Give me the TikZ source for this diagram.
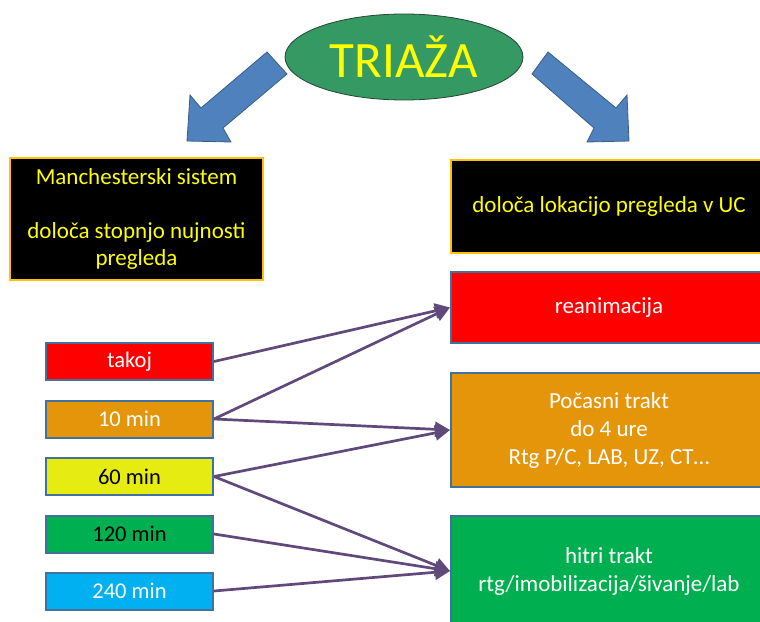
\documentclass[tikz,border=0pt]{standalone}
\usepackage{fontspec}
\setmainfont{Carlito}
\usetikzlibrary{shapes.geometric,arrows.meta}
\definecolor{ellgreen}{RGB}{52,153,99}
\definecolor{ellline}{RGB}{40,70,52}
\definecolor{arrblue}{RGB}{79,129,189}
\definecolor{arrblueline}{RGB}{56,93,138}
\definecolor{ppgold}{RGB}{255,192,0}
\definecolor{txtyellow}{RGB}{255,255,0}
\definecolor{boxline}{RGB}{65,113,156}
\definecolor{pporange}{RGB}{228,149,10}
\definecolor{ppyellow}{RGB}{230,236,18}
\definecolor{ppgreen}{RGB}{0,176,80}
\definecolor{ppcyan}{RGB}{0,176,240}
\definecolor{pppurple}{RGB}{96,74,123}
\begin{document}
\begin{tikzpicture}[x=1pt,y=-1pt,
  blackbox/.style={draw=ppgold, line width=2.2pt, fill=black, text=txtyellow,
    align=center, inner sep=0pt, font=\fontsize{23}{27}\selectfont},
  bigbox/.style={draw=boxline, line width=2pt, text=white, align=center,
    inner sep=0pt, minimum width=316pt, font=\fontsize{23}{28}\selectfont},
  smallbox/.style={draw=boxline, line width=2pt, inner sep=0pt,
    minimum width=167pt, minimum height=37pt, font=\fontsize{22.5}{25}\selectfont},
  conn/.style={draw=pppurple, line width=2.7pt,
    -{Triangle[length=15pt,width=15pt]}},
  bluearrow/.style={fill=arrblue, draw=arrblueline, line width=0.8pt, line join=miter}
]
\useasboundingbox (0,0) rectangle (760,621);
\clip (0,0) rectangle (760,621);

% top ellipse
\node[ellipse, draw=ellline, line width=0.8pt, fill=ellgreen,
  minimum width=238pt, minimum height=86pt, inner sep=0pt,
  text=txtyellow, font=\fontsize{51}{53}\selectfont] (tri) at (404,57) {TRIAŽA};

% block arrows
\path[bluearrow] (267,52) -- (201,108) -- (190,95) -- (187,141) -- (231,142)
  -- (223,128) -- (287,74) -- cycle;
\path[bluearrow] (548,52) -- (616,108) -- (627,95) -- (629,141) -- (587,142)
  -- (594,128) -- (532,74) -- cycle;

% header boxes
\node[blackbox, minimum width=253pt, minimum height=122pt] (man) at (136.5,219)
  {Manchesterski sistem\\[27pt]določa stopnjo nujnosti\\pregleda};
\node[blackbox, minimum width=316pt, minimum height=93pt] (lok) at (609,206.5)
  {določa lokacijo pregleda v UC};

% location boxes
\node[bigbox, fill=red, minimum height=71pt] (rean) at (609,307.5) {reanimacija};
\node[bigbox, fill=pporange, minimum height=114pt] (poc) at (609,430)
  {Počasni trakt\\do 4 ure\\Rtg P/C, LAB, UZ, CT…};
\node[bigbox, fill=ppgreen, minimum height=110pt] (hit) at (609,571)
  {hitri trakt\\rtg/imobilizacija/šivanje/lab};

% priority boxes
\node[smallbox, fill=red, text=white] (takoj) at (129.5,361.5) {takoj};
\node[smallbox, fill=pporange, text=white] (m10) at (129.5,419) {10 min};
\node[smallbox, fill=ppyellow, text=black] (m60) at (129.5,476.5) {60 min};
\node[smallbox, fill=ppgreen, text=black] (m120) at (129.5,534) {120 min};
\node[smallbox, fill=ppcyan, text=white] (m240) at (129.5,591) {240 min};

% connectors
\draw[conn] (takoj.east) -- (rean.west);
\draw[conn] (m10.east) -- (rean.west);
\draw[conn] (m10.east) -- (poc.west);
\draw[conn] (m60.east) -- (poc.west);
\draw[conn] (m60.east) -- (hit.west);
\draw[conn] (m120.east) -- (hit.west);
\draw[conn] (m240.east) -- (hit.west);
\end{tikzpicture}
\end{document}
